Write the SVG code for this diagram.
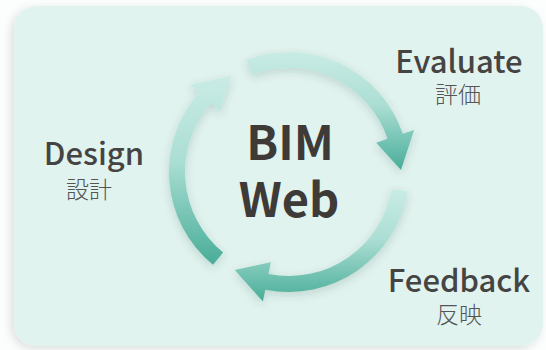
<svg xmlns="http://www.w3.org/2000/svg" width="546" height="350" viewBox="0 0 546 350">
<style>
.en{font-family:"Noto Sans CJK JP","Noto Sans",sans-serif;font-weight:500;fill:#454443;font-size:31px}
.ja{font-family:"Noto Sans CJK JP",sans-serif;font-weight:300;fill:#555;font-size:23px}
.lbl{text-anchor:middle;font-family:"Noto Sans CJK JP",sans-serif}
.core{font-family:"Noto Sans CJK JP","Noto Sans",sans-serif;font-weight:700;fill:#3e3a37;text-anchor:middle;font-size:47px}
.arrow{fill:url(#g);filter:url(#sh)}
</style>
<defs>
<linearGradient id="g" x1="0" y1="0" x2="0" y2="1">
<stop offset="0" stop-color="#c9ece5"/>
<stop offset="0.45" stop-color="#abded4"/>
<stop offset="1" stop-color="#48ad98"/>
</linearGradient>
<filter id="sh" x="-20%" y="-20%" width="140%" height="140%">
<feDropShadow dx="0" dy="3" stdDeviation="4" flood-color="#1e4a40" flood-opacity="0.18"/>
</filter>
<filter id="bs" x="-10%" y="-10%" width="120%" height="120%">
<feDropShadow dx="-3" dy="3" stdDeviation="5" flood-color="#000" flood-opacity="0.12"/>
</filter>
</defs>
<rect width="546" height="350" fill="#fcfdfd"/>
<rect id="panel" x="14" y="6" width="529" height="340" rx="22" fill="#e1f3ef" filter="url(#bs)"/>
<g id="connectors">
<path class="arrow" d="M246.58 59.73 A120 120 0 0 1 402.74 133.72 L414.11 129.89 L400.98 170.05 L376.2 142.65 L387.57 138.82 A104 104 0 0 0 252.24 74.7 Z"/>
<path class="arrow" d="M407.42 191.39 A120 120 0 0 1 265.28 289.63 L262.91 301.4 L234.7 269.96 L270.82 262.18 L268.44 273.95 A104 104 0 0 0 391.63 188.81 Z"/>
<path class="arrow" d="M212.99 264.86 A120 120 0 0 1 198.99 92.64 L189.99 84.71 L231.32 76 L219.99 111.16 L210.99 103.22 A104 104 0 0 0 223.13 252.48 Z"/>
</g>
<g id="core">
<text class="core"><tspan x="290" y="160">BIM</tspan><tspan x="289" y="217">Web</tspan></text>
</g>
<g id="evaluate">
<text class="lbl"><tspan class="en" x="459" y="73">Evaluate</tspan><tspan class="ja" x="458" y="103">評価</tspan></text>
</g>
<g id="feedback">
<text class="lbl"><tspan class="en" x="459" y="292">Feedback</tspan><tspan class="ja" x="459" y="323">反映</tspan></text>
</g>
<g id="design">
<text class="lbl"><tspan class="en" x="94" y="165">Design</tspan><tspan class="ja" x="89" y="198">設計</tspan></text>
</g>
</svg>
